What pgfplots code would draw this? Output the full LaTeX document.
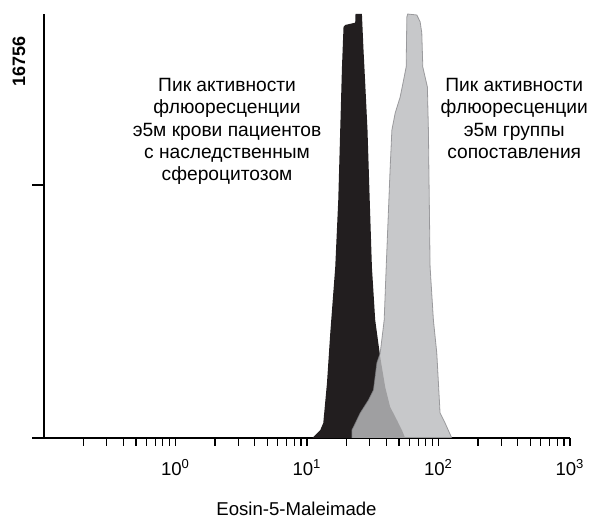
\documentclass[border=0pt]{standalone}
\usepackage{fontspec}
\setmainfont{Liberation Sans}
\usepackage{pgfplots}
\usepackage{pgfplotstable}
\pgfplotsset{compat=1.18}
\definecolor{peakblack}{RGB}{34,30,31}
\definecolor{peakgray}{RGB}{187,188,190}
\definecolor{edgegray}{RGB}{125,125,128}

% histogram outlines (x = fluorescence, y = count)
\pgfplotstableread{
x y
10.97 0
11.56 119
12.62 316
13.30 593
14.19 2174
15.03 4150
16.40 6758
17.29 9406
17.89 12172
18.45 14662
18.96 16243
19.53 16322
23.26 16413
23.39 16756
26.16 16756
26.90 15334
27.71 14030
28.85 12172
29.99 9406
31.16 6758
33.01 4663
36.04 3201
39.31 2016
42.91 1225
48.25 711
52.65 316
55.77 0
}\patients

\pgfplotstableread{
x y
21.96 0
21.96 316
22.58 435
25.39 988
29.36 1502
32.04 1897
34.00 2964
36.03 3359
38.63 4663
40.01 6758
42.91 10710
44.20 12172
46.83 12844
51.10 13476
54.82 14267
56.75 14662
57.45 16638
58.26 16756
68.42 16717
72.50 16452
74.68 16006
75.99 14662
79.13 14267
82.36 13872
83.82 12172
86.35 6758
91.48 4663
97.07 3359
102.8 988
112.2 593
126.2 0
}\controls

\begin{document}
\begin{tikzpicture}
\begin{axis}[
    at={(0,0)}, anchor=south west,
    scale only axis, width=263pt, height=212pt,
    clip mode=individual,
    xmode=log, xmin=0.1, xmax=1000,
    ymin=0, ymax=16756,
    scaled y ticks=false,
    axis x line=bottom, axis y line=left,
    axis line style={-, line width=0.55pt},
    tick align=outside,
    major tick length=4pt, minor tick length=4pt,
    tick style={line width=0.6pt, black},
    y tick style={/pgfplots/major tick length=6pt},
    xtick={1,10,100,1000},
    xticklabels={10\textsuperscript{0},10\textsuperscript{1},10\textsuperscript{2},10\textsuperscript{3}},
    minor xtick={0.2,0.3,0.4,0.5,0.6,0.7,0.8,0.9,2,3,4,5,6,7,8,9,20,30,40,50,60,70,80,90,200,300,400,500,600,700,800,900},
    xticklabel style={font=\fontsize{9.3pt}{11pt}\selectfont, yshift=-3pt},
    ytick={0,10000}, yticklabels={},
    xlabel={Eosin-5-Maleimade},
    xlabel style={at={(axis description cs:0.480,-0.1675)}, anchor=center, font=\fontsize{9.3pt}{11pt}\selectfont},
    ylabel={16756},
    ylabel style={at={(axis description cs:-0.0475,0.887)}, anchor=center, font=\fontsize{9pt}{11pt}\selectfont\bfseries},
]
\addplot[fill=peakblack, draw=none] table {\patients};
\addplot[fill=peakgray, fill opacity=0.82, draw=edgegray, draw opacity=0.7, line width=0.4pt] table {\controls};
\node[anchor=north, align=center, inner sep=0pt, font=\fontsize{9.6pt}{11.15pt}\selectfont]
  at (axis description cs:0.348,0.849)
  {Пик активности\\флюоресценции\\э5м крови пациентов\\с наследственным\\сфероцитозом};
\node[anchor=north, align=center, inner sep=0pt, font=\fontsize{9.6pt}{11.15pt}\selectfont]
  at (axis description cs:0.894,0.849)
  {Пик активности\\флюоресценции\\э5м группы\\сопоставления};
\end{axis}
\pgfresetboundingbox
\path (-22pt,-40.5pt) rectangle (273pt,219pt);
\end{tikzpicture}
\end{document}
